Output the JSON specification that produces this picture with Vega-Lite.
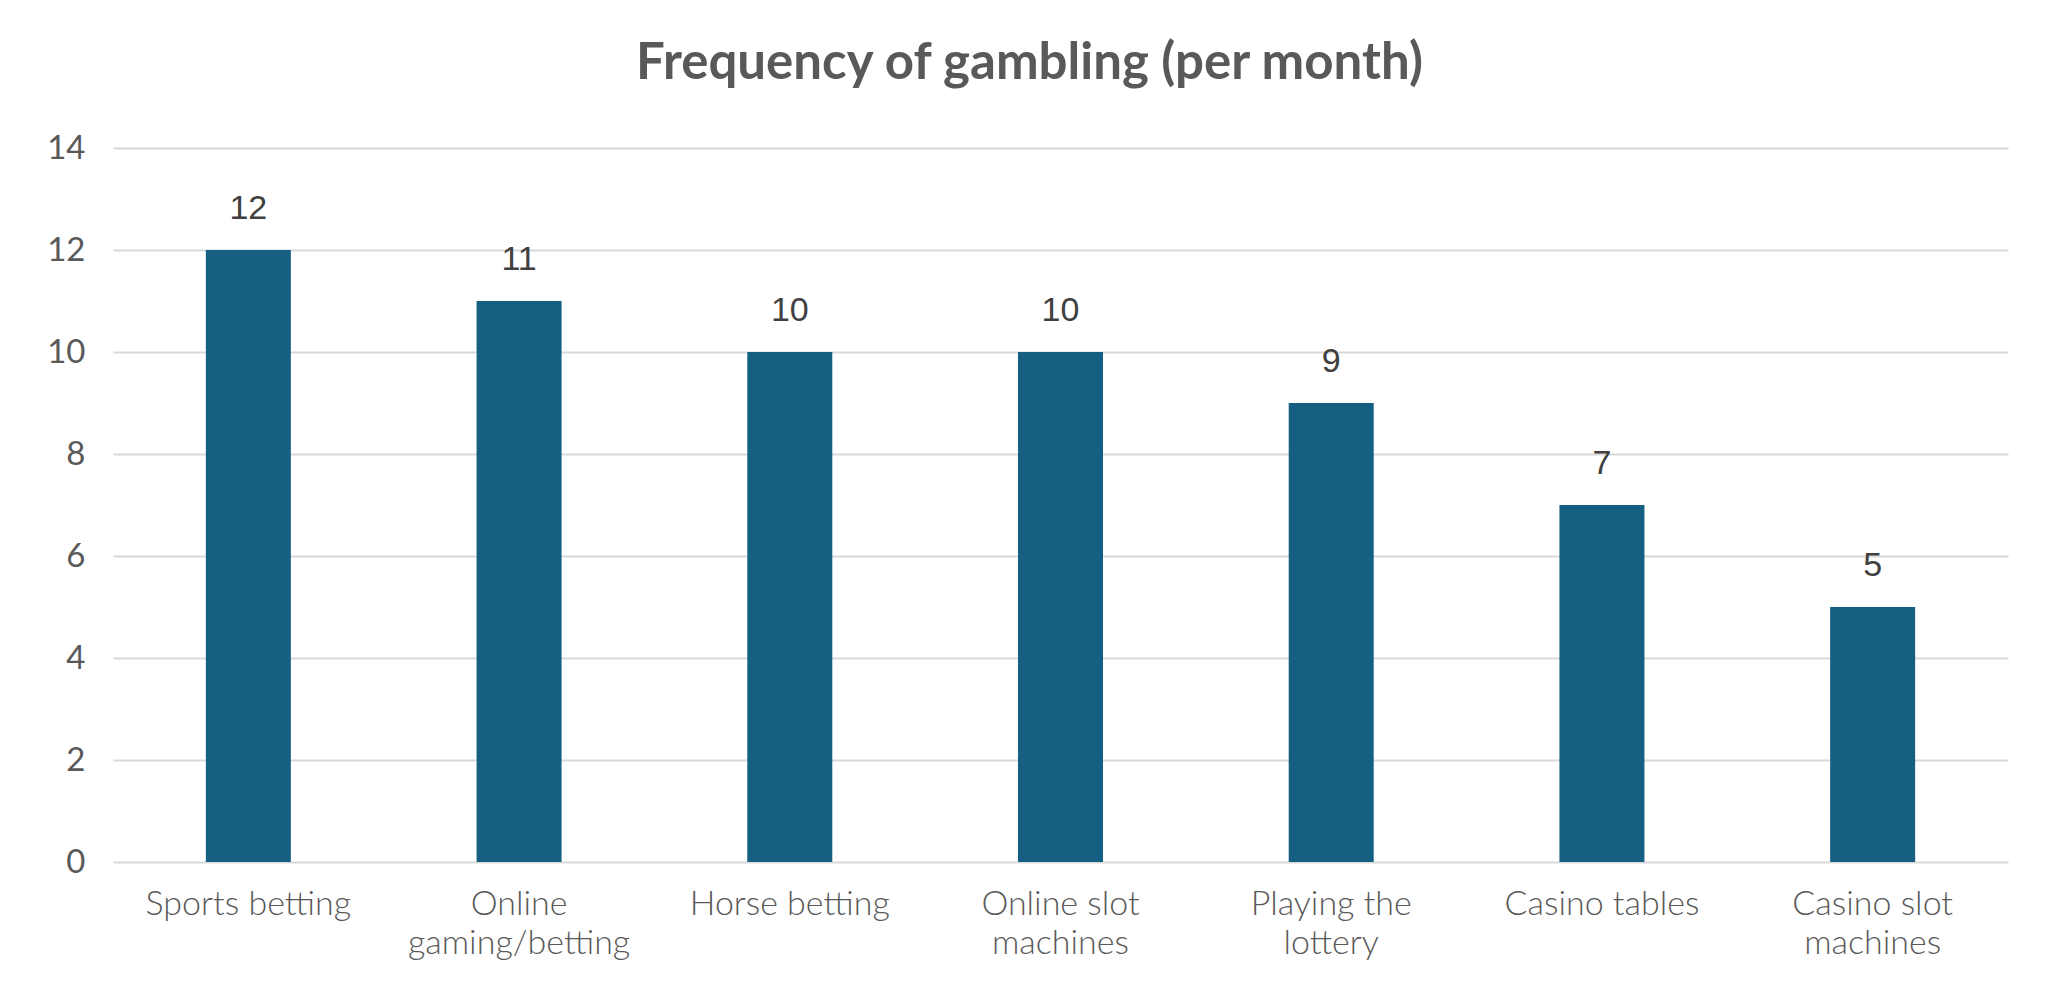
{
  "$schema": "https://vega.github.io/schema/vega-lite/v6.json",
  "autosize": "none",
  "width": 1895,
  "height": 714,
  "padding": {"left": 113, "top": 148, "right": 50, "bottom": 130},
  "background": "white",
  "title": {
    "text": "Frequency of gambling (per month)",
    "font": "Lato",
    "fontSize": 51,
    "fontWeight": 700,
    "color": "#595959",
    "anchor": "middle",
    "baseline": "alphabetic",
    "offset": 2,
    "dx": -31
  },
  "data": {
    "values": [
      {"activity": "Sports betting", "frequency": 12},
      {"activity": "Online gaming/betting", "frequency": 11},
      {"activity": "Horse betting", "frequency": 10},
      {"activity": "Online slot machines", "frequency": 10},
      {"activity": "Playing the lottery", "frequency": 9},
      {"activity": "Casino tables", "frequency": 7},
      {"activity": "Casino slot machines", "frequency": 5}
    ]
  },
  "encoding": {
    "x": {
      "field": "activity",
      "type": "nominal",
      "sort": null,
      "title": null,
      "scale": {"paddingInner": 0.686, "paddingOuter": 0.343},
      "axis": {
        "domain": false,
        "ticks": false,
        "tickSize": 0,
        "labelAngle": 0,
        "labelFont": "Lato",
        "labelFontWeight": 300,
        "labelFontSize": 34,
        "labelColor": "#595959",
        "labelPadding": 25,
        "labelLineHeight": 39,
        "labelLimit": 400,
        "labelExpr": "length(datum.label) > 14 ? [substring(datum.label, 0, lastindexof(datum.label, ' ')), substring(datum.label, lastindexof(datum.label, ' ') + 1)] : datum.label"
      }
    },
    "y": {
      "field": "frequency",
      "type": "quantitative",
      "title": null,
      "scale": {"domain": [0, 14]},
      "axis": {
        "values": [0, 2, 4, 6, 8, 10, 12, 14],
        "domain": false,
        "ticks": false,
        "tickSize": 0,
        "labelFont": "Lato",
        "labelFontSize": 33,
        "labelColor": "#595959",
        "labelPadding": 28,
        "gridColor": "#D9D9D9",
        "gridWidth": 2
      }
    }
  },
  "layer": [
    {"mark": {"type": "bar", "color": "#156082"}},
    {
      "mark": {
        "type": "text",
        "font": "Liberation Sans",
        "fontSize": 34,
        "color": "#404040",
        "baseline": "alphabetic",
        "dy": -31
      },
      "encoding": {"text": {"field": "frequency", "type": "quantitative"}}
    }
  ],
  "config": {"view": {"stroke": null}}
}
